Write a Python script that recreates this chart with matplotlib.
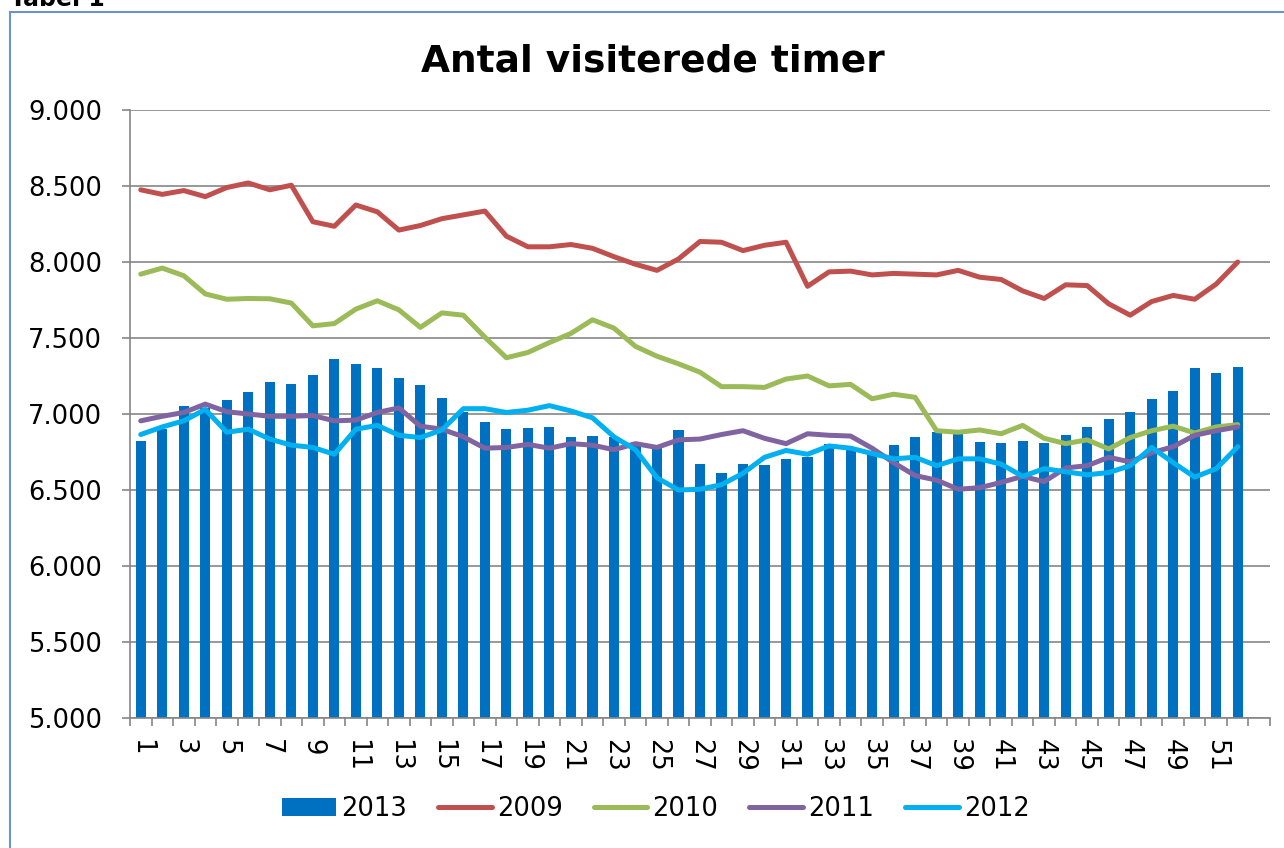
import matplotlib.pyplot as plt
import numpy as np
from matplotlib.patches import Rectangle
from matplotlib.ticker import FixedLocator, FuncFormatter

weeks = np.arange(1, 53)

visits_2013 = [6820, 6900, 7050, 7040, 7095, 7145, 7210, 7200, 7255, 7360,
               7330, 7300, 7240, 7190, 7105, 7010, 6950, 6900, 6910, 6915,
               6850, 6855, 6850, 6790, 6790, 6895, 6670, 6610, 6670, 6665,
               6705, 6715, 6805, 6760, 6740, 6795, 6850, 6880, 6870, 6815,
               6810, 6820, 6810, 6860, 6915, 6965, 7015, 7100, 7150, 7300,
               7270, 7310]
visits_2009 = [8475, 8445, 8470, 8430, 8490, 8520, 8475, 8505, 8265, 8235,
               8375, 8330, 8210, 8240, 8285, 8310, 8335, 8170, 8100, 8100,
               8115, 8090, 8035, 7985, 7945, 8020, 8135, 8130, 8075, 8110,
               8130, 7840, 7935, 7940, 7915, 7925, 7920, 7915, 7945, 7900,
               7885, 7810, 7760, 7850, 7845, 7725, 7650, 7740, 7780, 7755,
               7855, 8000]
visits_2010 = [7920, 7960, 7910, 7790, 7755, 7760, 7758, 7730, 7580, 7595,
               7690, 7745, 7685, 7570, 7665, 7650, 7505, 7370, 7405, 7470,
               7530, 7620, 7565, 7445, 7380, 7330, 7275, 7180, 7180, 7175,
               7230, 7250, 7185, 7195, 7100, 7130, 7110, 6890, 6880, 6895,
               6870, 6925, 6840, 6805, 6830, 6770, 6845, 6890, 6920, 6875,
               6915, 6930]
visits_2011 = [6955, 6985, 7010, 7065, 7015, 7000, 6985, 6985, 6990, 6955,
               6960, 7010, 7040, 6920, 6900, 6850, 6775, 6780, 6800, 6775,
               6805, 6795, 6765, 6805, 6780, 6830, 6835, 6865, 6890, 6840,
               6805, 6870, 6860, 6855, 6775, 6680, 6595, 6565, 6505, 6515,
               6550, 6590, 6555, 6645, 6660, 6715, 6685, 6745, 6785, 6860,
               6890, 6915]
visits_2012 = [6865, 6915, 6955, 7030, 6880, 6900, 6835, 6795, 6780, 6735,
               6900, 6925, 6860, 6845, 6895, 7035, 7035, 7010, 7025, 7055,
               7020, 6975, 6850, 6765, 6580, 6500, 6505, 6535, 6610, 6715,
               6760, 6735, 6790, 6775, 6740, 6705, 6715, 6660, 6705, 6705,
               6670, 6590, 6640, 6620, 6600, 6615, 6660, 6780, 6680, 6585,
               6640, 6785]

line_series = [
    ("2009", visits_2009, "#C0504D"),
    ("2010", visits_2010, "#9BBB59"),
    ("2011", visits_2011, "#8064A2"),
    ("2012", visits_2012, "#00B0F0"),
]

plt.rcParams['font.family'] = ['DejaVu Sans']
FS = 18.5
GRID = '#868686'

fig = plt.figure(figsize=(12.84, 8.48), dpi=100)
ax = fig.add_axes([130 / 1284, 1 - 718 / 848, 1140 / 1284, 608 / 848])

handles = [ax.bar(weeks, visits_2013, width=0.47, color='#0070C0', label='2013', zorder=2)]
for name, values, color in line_series:
    line, = ax.plot(weeks, values, color=color, lw=3.6, label=name, zorder=3,
                    solid_capstyle='round', solid_joinstyle='round')
    handles.append(line)

ax.set_xlim(0.5, 53.5)
ax.set_ylim(5000, 9000)
ax.set_yticks(np.arange(5000, 9001, 500))
ax.yaxis.set_major_formatter(FuncFormatter(lambda v, p: f"{int(v):,}".replace(",", ".")))
ax.yaxis.grid(True, color=GRID, lw=1.2, zorder=0)
ax.set_axisbelow(True)

# tick marks between weeks, labels on every second week
ax.xaxis.set_major_locator(FixedLocator(np.arange(0.5, 54, 1)))
ax.xaxis.set_major_formatter(FuncFormatter(lambda v, p: ""))
ax.xaxis.set_minor_locator(FixedLocator(np.arange(1, 52, 2)))
ax.set_xticklabels([str(w) for w in range(1, 52, 2)], minor=True, rotation=-90,
                   fontsize=FS, va='top', ha='center')
ax.tick_params(axis='x', which='major', length=6, width=1.2, color=GRID)
ax.tick_params(axis='x', which='minor', length=0, pad=15)
ax.tick_params(axis='y', length=6, width=1.2, color=GRID, labelsize=FS, pad=14)

for side in ['top', 'right']:
    ax.spines[side].set_visible(False)
for side in ['left', 'bottom']:
    ax.spines[side].set_color(GRID)
    ax.spines[side].set_linewidth(1.2)

fig.text(653 / 1284, 1 - 72 / 848, "Antal visiterede timer", ha='center',
         va='baseline', fontsize=27, fontweight='bold')
fig.text(10 / 1284, 1 - 6 / 848, "Tabel 1", ha='left', va='baseline',
         fontsize=17, fontweight='bold')

fig.patches.append(Rectangle((10 / 1284, -0.1), 2, 1.1 - 12 / 848, transform=fig.transFigure,
                             fill=False, edgecolor='#6A93CE', lw=1.5))

fig.legend(handles=handles, loc='center', bbox_to_anchor=(656 / 1284, 1 - 809 / 848), ncol=5,
           frameon=False, fontsize=FS, handlelength=2.1, handletextpad=0.2,
           columnspacing=1.2)

fig.savefig('out.png', dpi=100)
